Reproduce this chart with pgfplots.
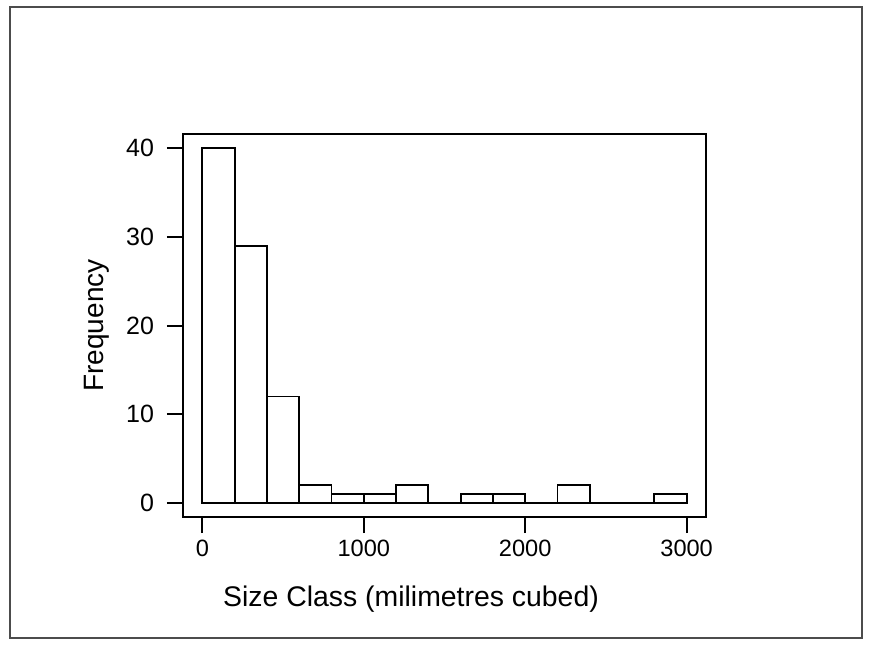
\documentclass[border=0pt]{standalone}
\usepackage{pgfplots}
\pgfplotsset{compat=1.18}
\usepackage{fontspec}
\setmainfont{Liberation Sans}
\begin{document}
\begin{tikzpicture}
\begin{axis}[
  name=ax, at={(0,0)}, anchor=south west,
  scale only axis, width=261.5pt, height=191.5pt,
  xmin=-120, xmax=3120, ymin=-1.6, ymax=41.6,
  xtick={0,1000,2000,3000}, ytick={0,10,20,30,40},
  tick align=outside, xtick pos=bottom, ytick pos=left,
  major tick length=8pt,
  axis line style={line width=1pt},
  tick style={line width=1pt, black},
  /pgf/number format/assume math mode=true,
  /pgf/number format/1000 sep={},
  xticklabel style={font=\fontsize{11.8}{13}\selectfont},
  yticklabel style={font=\fontsize{12.5}{14}\selectfont, xshift=-3pt},
  xlabel={Size Class (milimetres cubed)},
  ylabel={Frequency},
  every axis x label/.style={at={(axis description cs:0.436,-0.215)}, anchor=center,
    font=\fontsize{14.2}{16}\selectfont},
  every axis y label/.style={at={(axis description cs:-0.1644,0.5)}, rotate=90, anchor=center,
    font=\fontsize{14}{16}\selectfont},
]
% histogram counts, bins of width 200
\addplot[ybar interval, draw=black, fill=white, line width=0.9pt] coordinates {
  (0,40) (200,29) (400,12) (600,2) (800,1) (1000,1) (1200,2) (1400,0)
  (1600,1) (1800,1) (2000,0) (2200,2) (2400,0) (2600,0) (2800,1) (3000,1)
};
\end{axis}
\draw[gray!60!black, line width=1pt]
  ([shift={(-86.5pt,-60.5pt)}]ax.south west) rectangle ([shift={(339.5pt,255pt)}]ax.south west);
\pgfresetboundingbox
\path[use as bounding box]
  ([shift={(-91.5pt,-63.5pt)}]ax.south west) rectangle ([shift={(344.5pt,258.5pt)}]ax.south west);
\end{tikzpicture}
\end{document}
